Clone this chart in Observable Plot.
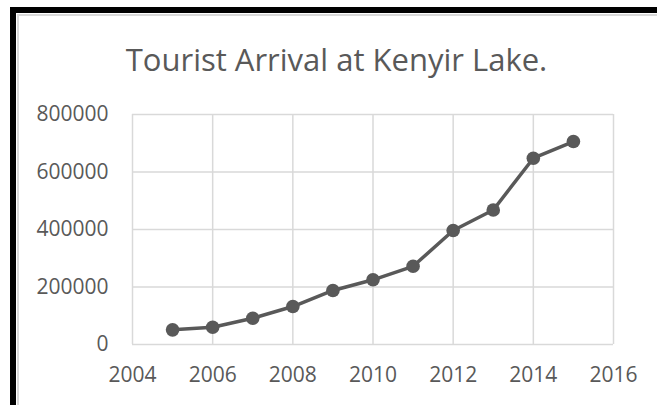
<!DOCTYPE html>
<html>
<head>
<meta charset="utf-8">
<script src="https://cdn.jsdelivr.net/npm/d3@7"></script>
<script src="https://cdn.jsdelivr.net/npm/@observablehq/plot@0.6"></script>
<style>
  html, body { margin: 0; padding: 0; background: #fff; }
  #wrap { position: relative; width: 657px; height: 405px; overflow: hidden; font-family: "Open Sans", sans-serif; }
  #topbar { position: absolute; left: 10px; top: 7px; width: 647px; height: 6px; background: #000; }
  #leftbar { position: absolute; left: 10px; top: 7px; width: 6px; height: 398px; background: #000; }
  #topgray { position: absolute; left: 17px; top: 14px; width: 640px; height: 2px; background: #d9d9d9; }
  #leftgray { position: absolute; left: 17px; top: 14px; width: 2px; height: 391px; background: #d9d9d9; }
  #title { position: absolute; left: 0; width: 673px; top: 38px; text-align: center; font-size: 31px; color: #595959; line-height: 42px; white-space: nowrap; }
  #chart { position: absolute; left: 0; top: 0; }
</style>
</head>
<body>
<div id="wrap">
  <div id="chart"></div>
  <div id="topbar"></div>
  <div id="leftbar"></div>
  <div id="topgray"></div>
  <div id="leftgray"></div>
  <div id="title">Tourist Arrival at Kenyir Lake.</div>
</div>
<script>
const years = [2005, 2006, 2007, 2008, 2009, 2010, 2011, 2012, 2013, 2014, 2015];
const arrivals = [51000, 60000, 91500, 132000, 188000, 225000, 272000, 396500, 468000, 648000, 706000];
const xTicks = [2004, 2006, 2008, 2010, 2012, 2014, 2016];
const yTicks = [0, 200000, 400000, 600000, 800000];

const data = years.map((y, i) => ({year: y, value: arrivals[i]}));
const fmt = d => String(d);

const chart = Plot.plot({
  width: 657,
  height: 405,
  marginLeft: 132,
  marginRight: 44,
  marginTop: 114,
  marginBottom: 61,
  style: { fontFamily: "Open Sans, sans-serif", fontSize: "21px", color: "#595959", background: "transparent" },
  x: { domain: [2004, 2016], label: null },
  y: { domain: [0, 800000], label: null },
  marks: [
    Plot.gridX(xTicks, { stroke: "#d9d9d9", strokeOpacity: 1, strokeWidth: 1.5 }),
    Plot.gridY(yTicks, { stroke: "#d9d9d9", strokeOpacity: 1, strokeWidth: 1.5 }),
    Plot.axisX(xTicks, { tickSize: 0, tickPadding: 23, tickFormat: fmt, fill: "#595959", fontSize: 21, label: null }),
    Plot.axisY(yTicks, { tickSize: 0, tickPadding: 24, tickFormat: fmt, fill: "#595959", fontSize: 21, label: null }),
    Plot.line(data, { x: "year", y: "value", stroke: "#595959", strokeWidth: 3.5 }),
    Plot.dot(data, { x: "year", y: "value", r: 6.8, fill: "#595959", stroke: "none" })
  ]
});
document.getElementById("chart").appendChild(chart);
</script>
</body>
</html>
